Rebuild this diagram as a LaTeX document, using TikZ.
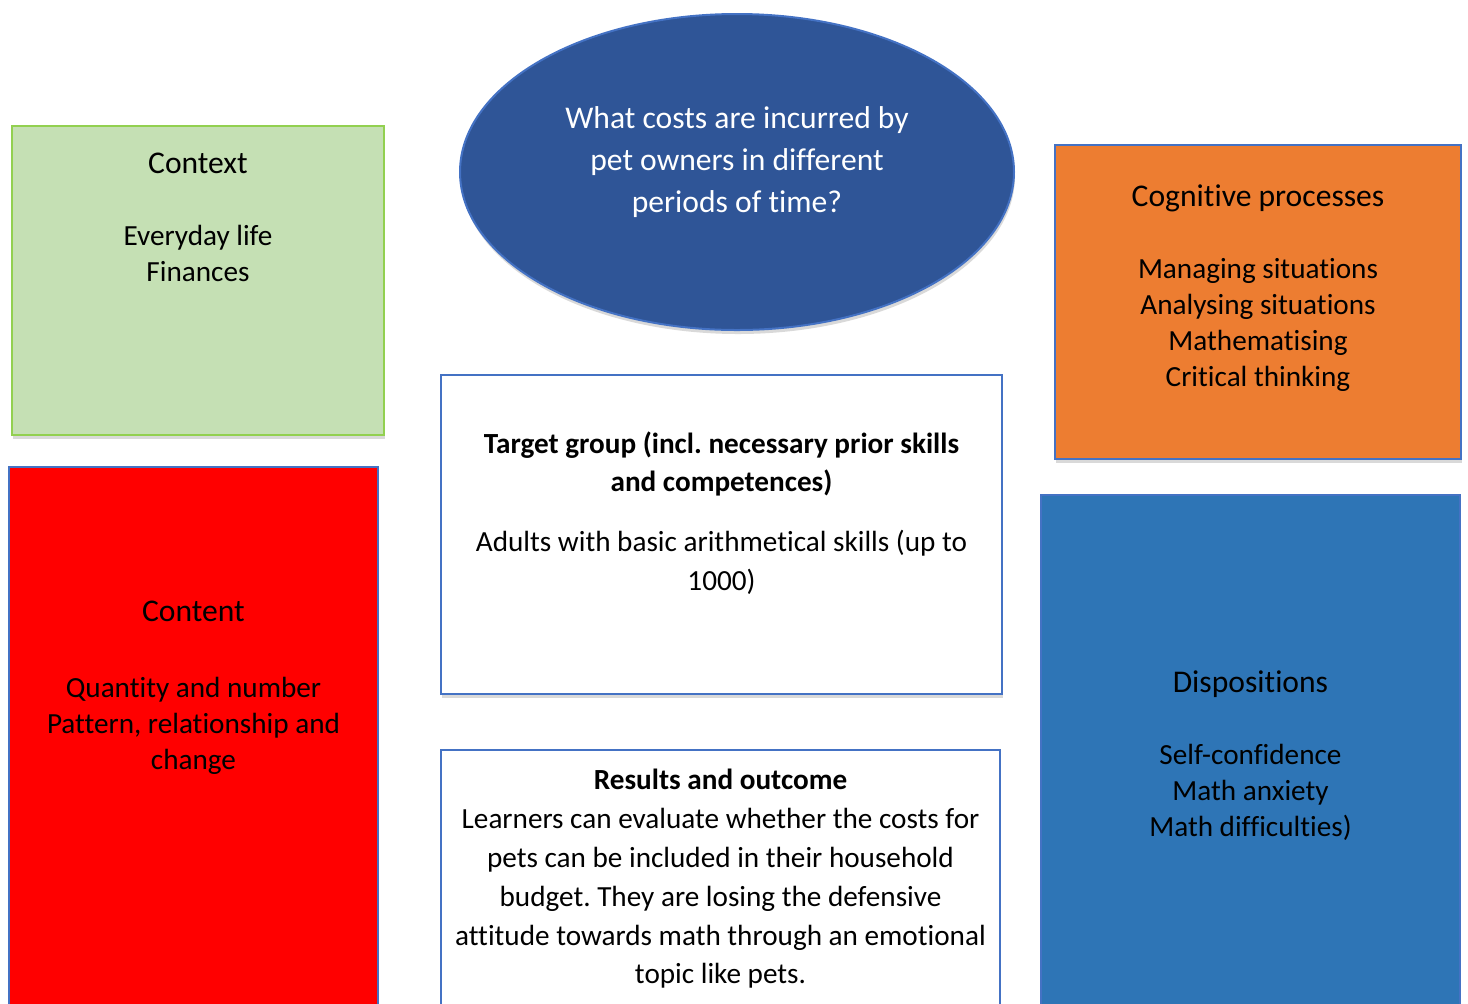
\documentclass[tikz,border=0pt]{standalone}
\usepackage{fontspec}
\setmainfont{Carlito}[Ligatures=NoCommon]
\frenchspacing
\usetikzlibrary{positioning,shadows,shapes.geometric}
\definecolor{edgeblue}{HTML}{4472C4}
\definecolor{ctxgreen}{HTML}{C5E0B4}
\definecolor{ctxedge}{HTML}{92D050}
\definecolor{qblue}{HTML}{2F5597}
\definecolor{cogorange}{HTML}{ED7D31}
\definecolor{disblue}{HTML}{2E75B6}
\newcommand{\BoxHead}[1]{{\fontsize{15.8}{18}\selectfont #1}}

\begin{document}
\begin{tikzpicture}[x=0.5pt,y=-0.5pt]
			\tikzstyle{boxs} = [draw=edgeblue, line width=1pt, inner sep=0pt,
				drop shadow={shadow xshift=0.5pt, shadow yshift=-2pt, opacity=0.25, fill=black!60}]
			\tikzstyle{txt} = [inner sep=0pt, align=center, font=\fontsize{14.6}{18}\selectfont]
			\tikzstyle{txtW} = [inner sep=0pt, align=center, font=\fontsize{14.6}{19.4}\selectfont]

			\useasboundingbox (0,0) rectangle (1468,1003);
			\clip (0,0) rectangle (1468,1003);

			% question in the middle
			\node(Question)[boxs, ellipse, fill=qblue, minimum width=277pt, minimum height=158pt] at (737,172) {};
			\node(QuestionText)[txt, text=white, font=\fontsize{15.8}{21}\selectfont, below=46.5pt of Question.north]
				{What costs are incurred by\\pet owners in different\\periods of time?};

			% left column
			\node(Context)[boxs, draw=ctxedge, fill=ctxgreen, minimum width=186pt, minimum height=154.5pt] at (198,280.5) {};
			\node(ContextText)[txt, below=14pt of Context.north]
				{\BoxHead{Context}\\[18pt]Everyday life\\Finances};
			\node(Content)[boxs, fill=red, minimum width=184.5pt, minimum height=286.5pt] at (193.5,753.5) {};
			\node(ContentText)[txt, below=67.5pt of Content.north]
				{\BoxHead{Content}\\[20pt]Quantity and number\\Pattern, relationship and\\change};

			% middle column
			\node(Target)[boxs, fill=white, minimum width=280.5pt, minimum height=159.5pt] at (721.5,534.5) {};
			\node(TargetText)[txtW, below=28.5pt of Target.north]
				{\textbf{Target group (incl. necessary prior skills}\\\textbf{and competences)}\\[10.5pt]Adults with basic arithmetical skills (up to\\1000)};
			\node(Results)[boxs, fill=white, minimum width=279.5pt, minimum height=145pt] at (720.5,895) {};
			\node(ResultsText)[txtW, below=10pt of Results.north]
				{\textbf{Results and outcome}\\Learners can evaluate whether the costs for\\pets can be included in their household\\budget. They are losing the defensive\\attitude towards math through an emotional\\topic like pets.};

			% right column
			\node(Cognitive)[boxs, fill=cogorange, minimum width=203pt, minimum height=157pt] at (1258,302) {};
			\node(CognitiveText)[txt, below=20pt of Cognitive.north]
				{\BoxHead{Cognitive processes}\\[18pt]Managing situations\\Analysing situations\\Mathematising\\Critical thinking};
			\node(Dispositions)[boxs, fill=disblue, minimum width=209.5pt, minimum height=272.5pt] at (1250.5,767.5) {};
			\node(DispositionsText)[txt, below=88pt of Dispositions.north]
				{\BoxHead{Dispositions}\\[18pt]Self-confidence\\Math anxiety\\Math difficulties)};

		\end{tikzpicture}
\end{document}
